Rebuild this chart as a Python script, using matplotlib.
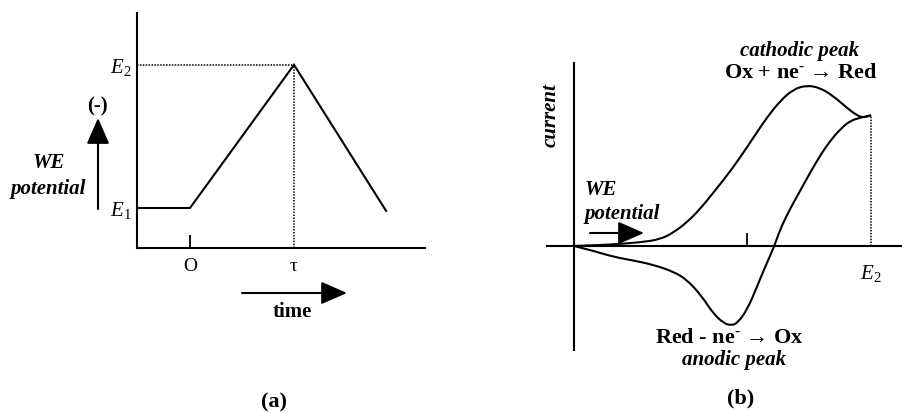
import matplotlib
matplotlib.use("Agg")
import matplotlib.pyplot as plt
from matplotlib.path import Path
from matplotlib.patches import PathPatch

plt.rcParams["font.family"] = ["Liberation Serif", "DejaVu Serif"]
plt.rcParams["mathtext.fontset"] = "custom"
plt.rcParams["mathtext.rm"] = "Liberation Serif"
plt.rcParams["mathtext.it"] = "Liberation Serif:italic"
plt.rcParams["mathtext.bf"] = "Liberation Serif:bold"

# ---- (a) applied potential waveform ----
wave_time = [-0.51, 0.0, 1.0, 1.885]
wave_potential = [1.0, 1.0, 4.58, 0.93]
E1 = 1.0
E2 = 4.58
TAU = 1.0
time_ticks = [0.0, TAU]
time_labels = ["O", "τ"]
potential_ticks = [E1, E2]
potential_labels = ["$E_1$", "$E_2$"]

# ---- (b) cyclic voltammogram (potential in % of E2, current in % of cathodic peak) ----
forward_E = [0.0, 8.8, 12.1, 22.2, 29.0, 33.4, 37.9, 42.4, 46.9, 51.4, 55.9,
             60.4, 64.9, 69.4, 73.8, 78.3, 82.8, 87.3, 91.8, 95.2, 97.4, 100.0]
forward_I = [0.0, 0.6, 0.9, 2.2, 4.1, 8.2, 14.4, 22.7, 32.9, 43.2, 54.5,
             66.9, 79.2, 89.5, 96.7, 99.2, 97.7, 92.6, 85.4, 80.7, 79.2, 80.7]
reverse_E = [100.0, 96.3, 92.9, 89.6, 86.2, 82.8, 79.5, 76.1, 72.7, 69.4, 67.5,
             64.5, 61.7, 58.4, 55.0, 52.8, 50.5, 47.1, 42.7, 38.1, 33.7, 26.9,
             20.2, 13.5, 6.7, 0.0]
reverse_I = [80.7, 79.2, 77.2, 72.0, 64.8, 55.6, 45.2, 34.0, 22.7, 10.3, 0.0,
             -12.3, -24.7, -39.1, -47.7, -49.0, -47.7, -42.2, -30.2, -21.0, -16.0,
             -11.7, -9.0, -6.8, -3.1, 0.0]
E_switch = 100.0
scan_ticks = [58.1, E_switch]
scan_labels = ["", "$E_2$"]

W, H = 902, 413
fig = plt.figure(figsize=(W / 100, H / 100), dpi=100)


def fpos(x, y):
    """Pixel position (from top-left) to figure fraction."""
    return x / W, 1 - y / H


def smooth_trace(axis, xs, ys, **kw):
    """Draw a sweep as a chain of quadratic Bezier pieces through midpoints."""
    verts = [(xs[0], ys[0])]
    codes = [Path.MOVETO]
    for i in range(1, len(xs) - 1):
        verts.append((xs[i], ys[i]))
        verts.append(((xs[i] + xs[i + 1]) / 2, (ys[i] + ys[i + 1]) / 2))
        codes += [Path.CURVE3, Path.CURVE3]
    verts.append((xs[-1], ys[-1]))
    codes.append(Path.LINETO)
    axis.add_patch(PathPatch(Path(verts, codes), fill=False, **kw))


LW = 1.5
DOT = dict(color="black", lw=1.1, linestyle=(0, (1, 0.9)))

# ---------------- panel (a) ----------------
ax = fig.add_axes([0, 0, 450 / W, 1])
ax.set_facecolor("none")
ax.set_xlim(-1.827, 2.5)
ax.set_ylim(-4.125, 6.2)
ax.plot(wave_time, wave_potential, color="black", lw=LW, solid_joinstyle="miter")
ax.plot([wave_time[0], TAU], [E2, E2], **DOT)
ax.plot([TAU, TAU], [0, E2], **DOT)

for s in ("top", "right"):
    ax.spines[s].set_visible(False)
ax.spines["left"].set_position(("data", wave_time[0]))
ax.spines["left"].set_bounds(0, 5.875)
ax.spines["bottom"].set_position(("data", 0))
ax.spines["bottom"].set_bounds(wave_time[0], 2.26)
for s in ("left", "bottom"):
    ax.spines[s].set_linewidth(LW)

ax.set_xticks(time_ticks, time_labels, fontsize=14)
ax.tick_params(axis="x", direction="in", length=9.4, width=1.3, pad=7)
ax.xaxis.get_major_ticks()[1].tick1line.set_visible(False)
ax.set_yticks(potential_ticks, potential_labels, fontsize=15)
ax.tick_params(axis="y", length=0, pad=4)

fig.text(*fpos(97, 106), "(-)", fontsize=15, fontweight="bold", ha="center", va="center")
fig.text(*fpos(49, 163), "WE", fontsize=15, fontweight="bold", fontstyle="italic",
         ha="center", va="center")
fig.text(*fpos(48, 189), "potential", fontsize=15, fontweight="bold", fontstyle="italic",
         ha="center", va="center")
fig.text(*fpos(292, 312), "time", fontsize=15, fontweight="bold", ha="center", va="center")
fig.text(*fpos(274, 402), "(a)", fontsize=16, fontweight="bold", ha="center", va="center")

arrow_kw = dict(arrowstyle="-|>,head_length=0.8,head_width=0.35", color="black",
                lw=1.5, mutation_scale=20, shrinkA=0, shrinkB=0)
ax.annotate("", xy=fpos(98, 118), xytext=fpos(98, 209), xycoords="figure fraction",
            textcoords="figure fraction", arrowprops=arrow_kw)
ax.annotate("", xy=fpos(347, 293), xytext=fpos(242, 293), xycoords="figure fraction",
            textcoords="figure fraction", arrowprops=arrow_kw)

# ---------------- panel (b) ----------------
bx = fig.add_axes([460 / W, 0, 442 / W, 1])
bx.set_facecolor("none")
bx.set_xlim(-38.38, 110.44)
bx.set_ylim(-103.09, 151.85)
smooth_trace(bx, forward_E, forward_I, edgecolor="black", lw=LW, joinstyle="round")
smooth_trace(bx, reverse_E, reverse_I, edgecolor="black", lw=LW, joinstyle="round")
bx.plot([E_switch, E_switch], [0, forward_I[-1]], **DOT)

for s in ("top", "right"):
    bx.spines[s].set_visible(False)
bx.spines["left"].set_position(("data", 0))
bx.spines["left"].set_bounds(-64.2, 113)
bx.spines["bottom"].set_position(("data", 0))
bx.spines["bottom"].set_bounds(-9.1, 110.44)
for s in ("left", "bottom"):
    bx.spines[s].set_linewidth(LW)
bx.set_yticks([])
bx.set_xticks(scan_ticks, scan_labels, fontsize=15)
bx.tick_params(axis="x", direction="in", length=9.4, width=1.3, pad=12)
bx.xaxis.get_major_ticks()[1].tick1line.set_visible(False)

fig.text(*fpos(551, 115), "current", fontsize=15, fontweight="bold", fontstyle="italic",
         rotation=90, ha="center", va="center")
fig.text(*fpos(601, 190), "WE", fontsize=15, fontweight="bold", fontstyle="italic",
         ha="center", va="center")
fig.text(*fpos(622, 214), "potential", fontsize=15, fontweight="bold", fontstyle="italic",
         ha="center", va="center")
bx.annotate("", xy=fpos(644, 233), xytext=fpos(590, 233), xycoords="figure fraction",
            textcoords="figure fraction", arrowprops=arrow_kw)

fig.text(*fpos(800, 51), "cathodic peak", fontsize=15, fontweight="bold",
         fontstyle="italic", ha="center", va="center")
fig.text(*fpos(801, 73), "Ox + ne$^{\\mathbf{‐}}$ → Red", fontsize=16, fontweight="bold",
         ha="center", va="center")
fig.text(*fpos(729, 338), "Red - ne$^{\\mathbf{‐}}$ → Ox", fontsize=16, fontweight="bold",
         ha="center", va="center")
fig.text(*fpos(734, 360), "anodic peak", fontsize=15, fontweight="bold",
         fontstyle="italic", ha="center", va="center")
fig.text(*fpos(741, 398), "(b)", fontsize=16, fontweight="bold", ha="center", va="center")

fig.savefig("out.png", dpi=100)
